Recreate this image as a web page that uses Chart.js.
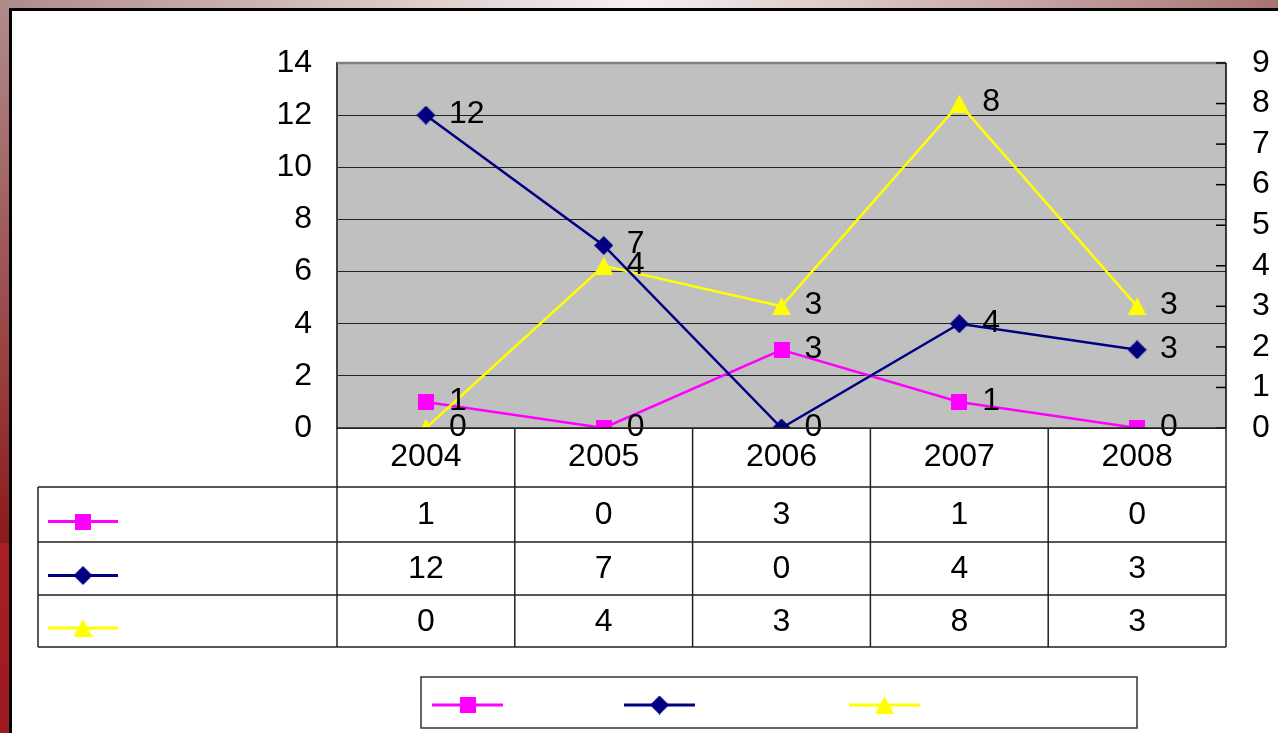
<!DOCTYPE html>
<html>
<head>
<meta charset="utf-8">
<script src="https://cdn.jsdelivr.net/npm/chart.js@4.4.1/dist/chart.umd.min.js"></script>
<style>
body { margin: 0; width: 1278px; height: 733px; overflow: hidden; position: relative; background: #fff; }
#tiraTopo { position: absolute; left: 0; top: 0; width: 1278px; height: 8px;
  background: linear-gradient(to right, #b08a8a, #f6f0f0 50%, #a87474); }
#tiraEsq { position: absolute; left: 0; top: 0; width: 9px; height: 733px;
  background: linear-gradient(to bottom, #b08c8c 0px, #8c1a1a 543px, #a81e24 543px, #9c1a20 733px); }
#borda { position: absolute; left: 9px; top: 8px; width: 1269px; height: 725px;
  border-left: 3px solid #000; border-top: 3px solid #000; box-sizing: border-box; }
canvas { position: absolute; left: 0; top: 0; }
</style>
</head>
<body>
<div id="tiraTopo"></div>
<div id="tiraEsq"></div>
<div id="borda"></div>
<canvas id="grafico" width="1278" height="733"></canvas>
<script>
// dados
const anos = ['2004', '2005', '2006', '2007', '2008'];
const serieRosa = [1, 0, 3, 1, 0];
const serieAzul = [12, 7, 0, 4, 3];
const serieAmarela = [0, 4, 3, 8, 3];   // eixo da direita
const eixoEsqMax = 14;
const eixoDirMax = 9;

const tamFonte = 32;
const familia = '"Liberation Sans", Arial, sans-serif';
const fonte = tamFonte + 'px ' + familia;

// marcadores desenhados num canvas pequeno
function criaMarca(tipo, cor) {
    const c = document.createElement('canvas');
    const w = tipo === 'quadrado' ? 16 : 19;
    const h = tipo === 'quadrado' ? 16 : (tipo === 'losango' ? 19 : 18);
    c.width = w;
    c.height = h;
    const g = c.getContext('2d');
    g.fillStyle = cor;
    g.beginPath();
    if (tipo === 'quadrado') {
        g.rect(0, 0, w, h);
    } else if (tipo === 'losango') {
        g.moveTo(w / 2, 0);
        g.lineTo(w, h / 2);
        g.lineTo(w / 2, h);
        g.lineTo(0, h / 2);
        g.closePath();
    } else {
        g.moveTo(w / 2, 0);
        g.lineTo(w, h);
        g.lineTo(0, h);
        g.closePath();
    }
    g.fill();
    return c;
}

const series = [
    { dados: serieRosa, cor: '#ff00ff', marca: criaMarca('quadrado', '#ff00ff'), eixo: 'y' },
    { dados: serieAzul, cor: '#000080', marca: criaMarca('losango', '#000080'), eixo: 'y' },
    { dados: serieAmarela, cor: '#ffff00', marca: criaMarca('triangulo', '#ffff00'), eixo: 'y2' }
];

function desenhaChave(ctx, s, x0, x1, y) {
    ctx.save();
    ctx.strokeStyle = s.cor;
    ctx.lineWidth = 3;
    ctx.beginPath();
    ctx.moveTo(x0, y);
    ctx.lineTo(x1, y);
    ctx.stroke();
    const m = s.marca;
    ctx.drawImage(m, (x0 + x1) / 2 - m.width / 2, y - m.height / 2);
    ctx.restore();
}

const fundoPlot = {
    id: 'fundoPlot',
    beforeDraw(chart) {
        const a = chart.chartArea;
        const ctx = chart.ctx;
        ctx.save();
        ctx.fillStyle = '#c0c0c0';
        ctx.fillRect(a.left, a.top, a.right - a.left, a.bottom - a.top);
        ctx.restore();
    }
};

const rotulos = {
    id: 'rotulos',
    afterDatasetsDraw(chart) {
        const ctx = chart.ctx;
        ctx.save();
        ctx.font = fonte;
        ctx.fillStyle = '#000';
        ctx.textAlign = 'left';
        ctx.textBaseline = 'middle';
        chart.data.datasets.forEach((ds, i) => {
            chart.getDatasetMeta(i).data.forEach((p, j) => {
                ctx.fillText(String(ds.data[j]), p.x + 23, p.y - 1);
            });
        });
        ctx.restore();
    }
};

const tabela = {
    id: 'tabela',
    afterDraw(chart) {
        const ctx = chart.ctx;
        const a = chart.chartArea;
        const y2 = chart.scales.y2;
        const x = chart.scales.x;
        const larg = (a.right - a.left) / anos.length;

        // borda do plot e marcas internas
        ctx.save();
        ctx.strokeStyle = '#808080';
        ctx.lineWidth = 2.5;
        ctx.beginPath();
        ctx.moveTo(a.left, a.top);
        ctx.lineTo(a.right, a.top);
        ctx.stroke();
        ctx.strokeStyle = '#000';
        ctx.lineWidth = 1.5;
        y2.ticks.forEach(t => {
            const py = y2.getPixelForValue(t.value);
            ctx.beginPath();
            ctx.moveTo(a.right - 10, py);
            ctx.lineTo(a.right, py);
            ctx.stroke();
        });
        ctx.beginPath();
        ctx.moveTo(a.right, a.top);
        ctx.lineTo(a.right, a.bottom);
        ctx.stroke();

        // tabela de dados
        const linhas = [a.bottom, a.bottom + 59, a.bottom + 114, a.bottom + 167, a.bottom + 219];
        const esq = 38;
        ctx.strokeStyle = '#222';
        ctx.lineWidth = 1.5;
        ctx.beginPath();
        ctx.moveTo(a.left, a.bottom);
        ctx.lineTo(a.right, a.bottom);
        for (let r = 1; r < linhas.length; r++) {
            ctx.moveTo(esq, linhas[r]);
            ctx.lineTo(a.right, linhas[r]);
        }
        for (let c = 0; c <= anos.length; c++) {
            const cx = a.left + c * larg;
            ctx.moveTo(cx, a.bottom);
            ctx.lineTo(cx, linhas[4]);
        }
        ctx.moveTo(esq, linhas[1]);
        ctx.lineTo(esq, linhas[4]);
        ctx.stroke();

        ctx.font = fonte;
        ctx.fillStyle = '#000';
        ctx.textAlign = 'center';
        ctx.textBaseline = 'middle';
        anos.forEach((ano, i) => {
            const cx = x.getPixelForValue(i);
            ctx.fillText(ano, cx, (linhas[0] + linhas[1]) / 2);
            series.forEach((s, k) => {
                ctx.fillText(String(s.dados[i]), cx, (linhas[k + 1] + linhas[k + 2]) / 2 + 1);
            });
        });
        series.forEach((s, k) => {
            desenhaChave(ctx, s, 48, 118, (linhas[k + 1] + linhas[k + 2]) / 2 + 7);
        });

        // legenda
        ctx.strokeStyle = '#333';
        ctx.lineWidth = 1.5;
        ctx.strokeRect(421, 677, 716, 51);
        const posLegenda = [432, 624, 849];
        series.forEach((s, k) => {
            desenhaChave(ctx, s, posLegenda[k], posLegenda[k] + 71, 705);
        });
        ctx.restore();
    }
};

const datasets = series.map((s, k) => ({
    label: '',
    data: s.dados,
    yAxisID: s.eixo,
    borderColor: s.cor,
    backgroundColor: s.cor,
    borderWidth: 2.5,
    pointStyle: s.marca,
    pointRadius: 9,
    tension: 0,
    order: [2, 0, 1][k]
}));

const ctx = document.getElementById('grafico').getContext('2d');
new Chart(ctx, {
    type: 'line',
    data: { labels: anos, datasets: datasets },
    options: {
        responsive: false,
        animation: false,
        layout: { padding: { top: 63, bottom: 305, left: 0, right: 0 } },
        plugins: { legend: { display: false }, tooltip: { enabled: false } },
        scales: {
            x: { display: false, offset: true },
            y: {
                position: 'left',
                min: 0, max: eixoEsqMax,
                ticks: { stepSize: 2, autoSkip: false, font: { size: tamFonte, family: familia }, color: '#000', padding: 25 },
                grid: { color: '#222', lineWidth: 1, drawTicks: false },
                border: { color: '#404040', width: 2 },
                afterFit(scale) { scale.width = 337; }
            },
            y2: {
                position: 'right',
                min: 0, max: eixoDirMax,
                ticks: { stepSize: 1, autoSkip: false, font: { size: tamFonte, family: familia }, color: '#000', padding: 26 },
                grid: { display: false, drawTicks: false },
                border: { display: false },
                afterFit(scale) { scale.width = 52; }
            }
        }
    },
    plugins: [fundoPlot, rotulos, tabela]
});
</script>
</body>
</html>
